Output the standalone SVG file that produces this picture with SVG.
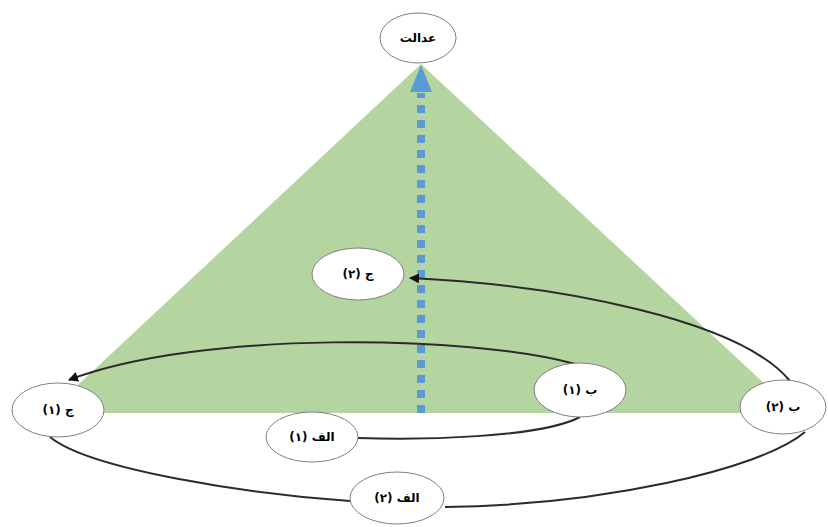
<svg xmlns="http://www.w3.org/2000/svg" width="828" height="527" viewBox="0 0 828 527">
<style>
.node ellipse{fill:#fff;stroke:#7f7f7f;stroke-width:1}
.node text{font-family:"DejaVu Sans",sans-serif;font-weight:bold;font-size:12px;fill:#000;text-anchor:middle;direction:rtl;unicode-bidi:embed}
.conn{fill:none;stroke:#2b2b2b;stroke-width:2}
</style>
<defs>
<marker id="ah" viewBox="0 0 10 10" refX="9" refY="5" markerWidth="5" markerHeight="5" orient="auto" markerUnits="strokeWidth">
<path d="M0,0 L10,5 L0,10 z" fill="#111"/>
</marker>
</defs>
<polygon id="triangle" points="421,64 48,413 796,413" fill="#b4d5a0"/>
<g id="justice-arrow">
<line x1="421" y1="413" x2="421" y2="93" stroke="#5b9bd5" stroke-width="8" stroke-dasharray="8 7"/>
<polygon points="421,65 410,92 432,92" fill="#5b9bd5"/>
</g>
<g id="connectors">
<path class="conn" d="M575,364 C470,335 200,330 69,380" marker-end="url(#ah)"/>
<path class="conn" d="M580,417 C540,438 420,440 358,438"/>
<path class="conn" d="M50,437 C90,470 250,494 350,501"/>
<path class="conn" d="M445,507 C600,505 760,470 805,432"/>
<path class="conn" d="M790,381 C740,320 560,285 410,278" marker-end="url(#ah)"/>
</g>
<g id="n-adalat" class="node"><ellipse cx="418" cy="38" rx="38" ry="25"/><text x="418" y="42">عدالت</text></g>
<g id="n-j2" class="node"><ellipse cx="358" cy="274" rx="46" ry="26"/><text x="358" y="278">ج (۲)</text></g>
<g id="n-j1" class="node"><ellipse cx="58" cy="410" rx="46" ry="27"/><text x="58" y="414">ج (۱)</text></g>
<g id="n-b1" class="node"><ellipse cx="580" cy="390" rx="46" ry="27"/><text x="580" y="394">ب (۱)</text></g>
<g id="n-b2" class="node"><ellipse cx="783" cy="407" rx="43" ry="27"/><text x="783" y="411">ب (۲)</text></g>
<g id="n-alef1" class="node"><ellipse cx="312" cy="437" rx="46" ry="25"/><text x="312" y="441">الف (۱)</text></g>
<g id="n-alef2" class="node"><ellipse cx="397" cy="498" rx="47" ry="26"/><text x="397" y="502">الف (۲)</text></g>
</svg>
